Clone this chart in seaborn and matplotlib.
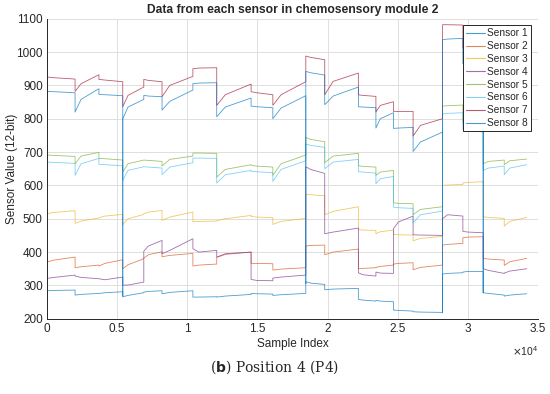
import pandas as pd
import matplotlib
matplotlib.use("Agg")
import matplotlib.pyplot as plt
import seaborn as sns

# segment boundaries (sample index) where the stimulus changes
bounds = [0, 2000, 3700, 5400, 6900, 8200, 10400, 12100, 14550, 16100, 18450,
          19800, 22200, 23450, 24700, 26100, 28200, 29650, 31100, 32600, 34200]
mid_frac = 0.25  # where the middle reading of each segment sits

# per segment: [start, early, end] value
sensor1 = [[284, 285, 286], [271, 273, 276], [276, 278, 281], [266, 270, 278],
           [280, 282, 284], [275, 279, 284], [265, 265, 266], [265, 268, 273],
           [276, 275, 274], [270, 272, 276], [311, 307, 303], [287, 289, 291],
           [258, 256, 253], [255, 253, 251], [226, 225, 223], [221, 220, 219],
           [334, 336, 338], [340, 342, 342], [278, 276, 271], [268, 271, 275]]
sensor2 = [[370, 376, 385], [353, 356, 361], [358, 366, 377], [350, 362, 380],
           [382, 392, 401], [386, 390, 396], [358, 361, 364], [384, 393, 400],
           [366, 366, 365], [346, 349, 353], [418, 420, 421], [392, 400, 409],
           [350, 351, 353], [354, 357, 361], [364, 366, 368], [347, 354, 361],
           [421, 423, 426], [443, 445, 446], [381, 379, 376], [360, 371, 381]]
sensor3 = [[515, 519, 524], [486, 493, 502], [503, 508, 513], [482, 500, 513],
           [515, 520, 525], [495, 505, 520], [491, 492, 493], [494, 500, 510],
           [507, 505, 503], [483, 492, 501], [573, 572, 569], [512, 522, 536],
           [467, 466, 465], [455, 461, 466], [453, 452, 451], [434, 441, 447],
           [600, 601, 603], [607, 609, 611], [506, 504, 501], [478, 492, 504]]
sensor4 = [[321, 324, 331], [328, 324, 320], [320, 317, 325], [301, 301, 310],
           [403, 418, 435], [395, 405, 440], [410, 400, 405], [385, 395, 400],
           [318, 315, 314], [322, 325, 331], [656, 648, 636], [455, 460, 472],
           [338, 332, 328], [340, 337, 336], [470, 490, 508], [452, 451, 450],
           [500, 512, 508], [462, 460, 458], [350, 345, 336], [337, 343, 350]]
sensor5 = [[691, 690, 687], [665, 688, 699], [681, 680, 676], [640, 665, 676],
           [676, 675, 672], [658, 678, 688], [697, 697, 696], [625, 648, 662],
           [660, 658, 655], [630, 665, 691], [744, 738, 731], [668, 688, 696],
           [659, 657, 655], [630, 640, 645], [548, 546, 545], [512, 528, 536],
           [838, 839, 841], [788, 792, 793], [665, 672, 676], [662, 674, 679]]
sensor6 = [[670, 669, 666], [630, 665, 681], [663, 662, 659], [615, 645, 656],
           [656, 655, 652], [632, 655, 668], [682, 682, 681], [607, 632, 645],
           [642, 641, 638], [612, 648, 674], [724, 720, 714], [650, 670, 678],
           [641, 640, 637], [605, 620, 627], [535, 533, 531], [487, 512, 523],
           [814, 816, 818], [768, 765, 760], [645, 652, 658], [632, 652, 662]]
sensor7 = [[925, 923, 919], [882, 905, 932], [918, 916, 911], [836, 870, 895],
           [918, 915, 911], [866, 900, 927], [950, 952, 953], [840, 872, 904],
           [881, 878, 872], [840, 872, 911], [988, 984, 977], [872, 912, 937],
           [872, 870, 867], [820, 840, 851], [822, 822, 822], [748, 780, 800],
           [1082, 1082, 1081], [1012, 1024, 1030], [930, 945, 950], [920, 940, 945]]
sensor8 = [[882, 881, 878], [820, 858, 890], [873, 872, 869], [800, 835, 858],
           [870, 868, 866], [826, 852, 886], [905, 907, 908], [806, 835, 862],
           [838, 836, 833], [800, 832, 869], [942, 938, 931], [842, 868, 895],
           [836, 835, 833], [772, 800, 818], [771, 772, 774], [702, 730, 760],
           [1037, 1039, 1041], [965, 985, 995], [900, 915, 925], [890, 910, 920]]
# single-sample dropouts of sensor 8 at some transitions
glitch8 = {5400: 268, 18450: 305, 28200: 218, 31100: 278}

sensors = [sensor1, sensor2, sensor3, sensor4, sensor5, sensor6, sensor7, sensor8]
names = [f"Sensor {i}" for i in range(1, 9)]
colors = ["#0072BD", "#D95319", "#EDB120", "#7E2F8E",
          "#77AC30", "#4DBEEE", "#A2142F", "#0072BD"]

yticks = [200, 300, 400, 500, 600, 700, 800, 900, 1000, 1100]
xticks = [0, 5000, 10000, 15000, 20000, 25000, 30000, 35000]
xtick_labels = ["0", "0.5", "1", "1.5", "2", "2.5", "3", "3.5"]

rows = []
for name, segs in zip(names, sensors):
    for i, (a, m, e) in enumerate(segs):
        x0, x1 = bounds[i], bounds[i + 1]
        if name == "Sensor 8" and x0 in glitch8:
            rows.append((name, x0, glitch8[x0]))
        rows.append((name, x0, a))
        rows.append((name, x0 + mid_frac * (x1 - x0), m))
        rows.append((name, x1, e))
df = pd.DataFrame(rows, columns=["sensor", "sample", "value"])

sns.set_style("white")
plt.rcParams["font.family"] = ["Liberation Sans", "DejaVu Sans"]

fig = plt.figure(figsize=(5.5, 3.94), dpi=100)
ax = fig.add_axes([0.0855, 0.191, 0.8925, 0.7615])

sns.lineplot(data=df, x="sample", y="value", hue="sensor", palette=colors,
             estimator=None, sort=False, linewidth=0.6, alpha=0.7, ax=ax)

ax.set_xlim(0, 35000)
ax.set_ylim(200, 1100)
ax.set_xticks(xticks)
ax.set_xticklabels(xtick_labels)
ax.set_yticks(yticks)
ax.grid(True, color="#dedede", linewidth=0.7)
for side in ["top", "right"]:
    ax.spines[side].set_visible(False)
for side in ["left", "bottom"]:
    ax.spines[side].set_color("#262626")
    ax.spines[side].set_linewidth(0.7)
ax.tick_params(direction="in", length=3, width=0.6, colors="#262626",
               labelsize=8.5, pad=3)

ax.set_xlabel("Sample Index", fontsize=8.5, color="#262626", labelpad=2)
ax.set_ylabel("Sensor Value (12-bit)", fontsize=8.5, color="#262626")
ax.yaxis.set_label_coords(-0.06, 0.5)
ax.set_title("Data from each sensor in chemosensory module 2",
             fontsize=8.7, fontweight="bold", pad=4)
ax.text(1.0, -0.085, r"$\times\mathregular{10^4}$", transform=ax.transAxes,
        fontsize=7.5, ha="right", va="top", color="#262626")

leg = ax.legend(loc="upper right", bbox_to_anchor=(0.99, 0.985), fontsize=7.3,
                frameon=True, fancybox=False, framealpha=1, edgecolor="#262626",
                handlelength=1.8, handletextpad=0.25, labelspacing=0.28,
                borderpad=0.3, borderaxespad=0.2, alignment="right")
leg.get_frame().set_linewidth(0.7)
for line in leg.get_lines():
    line.set_linewidth(0.8)

fig.text(0.5, 0.068, r"($\mathbf{b}$) Position 4 (P4)", ha="center", va="center",
         fontsize=10, family="DejaVu Serif")

fig.savefig("out.png", dpi=100)
